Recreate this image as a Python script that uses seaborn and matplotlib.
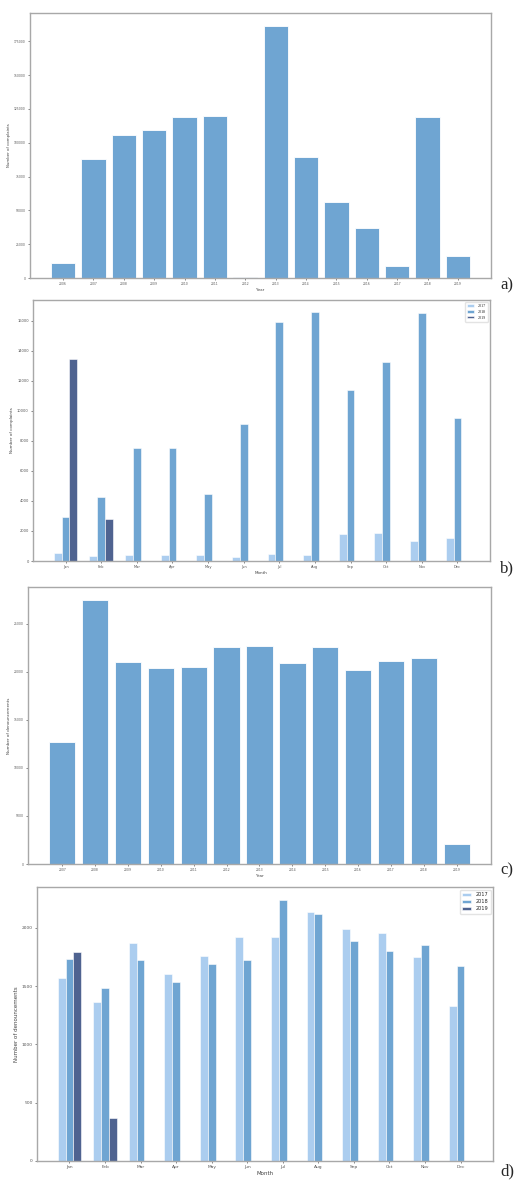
import pandas as pd
import matplotlib
matplotlib.use('Agg')
import matplotlib.pyplot as plt
import seaborn as sns

# a) complaints per year
years_a = ['2006', '2007', '2008', '2009', '2010', '2011', '2012',
           '2013', '2014', '2015', '2016', '2017', '2018', '2019']
complaints_year = [10800, 88300, 105600, 109000, 119300, 119800, 700,
                   186500, 89600, 55900, 36900, 9100, 119100, 16200]

# b) complaints per month
months = ['Jan', 'Feb', 'Mar', 'Apr', 'May', 'Jun',
          'Jul', 'Aug', 'Sep', 'Oct', 'Nov', 'Dec']
complaints_2017 = [510, 330, 380, 420, 380, 270, 440, 380, 1800, 1840, 1330, 1550]
complaints_2018 = [2910, 4260, 7500, 7500, 4480, 9100, 15890, 16560, 11390, 13250, 16540, 9520]
complaints_2019 = [13450, 2820]

# c) denouncements per year
years_c = ['2007', '2008', '2009', '2010', '2011', '2012', '2013',
           '2014', '2015', '2016', '2017', '2018', '2019']
denounce_year = [12740, 27470, 21080, 20450, 20520, 22600, 22670,
                 20900, 22600, 20170, 21150, 21420, 2120]

# d) denouncements per month
denounce_2017 = [1568, 1359, 1865, 1602, 1760, 1920, 1920, 2137, 1989, 1951, 1751, 1325]
denounce_2018 = [1731, 1482, 1722, 1531, 1688, 1720, 2237, 2120, 1888, 1800, 1851, 1668]
denounce_2019 = [1791, 366]

hue_years = ['2017', '2018', '2019']
palette = {'2017': '#abcdef', '2018': '#6fa5d2', '2019': '#4f6390'}
bar_blue = '#6fa5d2'
frame = '#a8a8a8'


def month_frame(v17, v18, v19):
    rows = []
    for vals, yr in [(v17, '2017'), (v18, '2018'), (v19, '2019')]:
        for m, v in zip(months, vals):
            rows.append({'month': m, 'year': yr, 'value': v})
    return pd.DataFrame(rows)


def style_axes(ax, tick_fs, label_fs, xlabel, ylabel):
    for s in ax.spines.values():
        s.set_color(frame)
        s.set_linewidth(1.0)
    ax.tick_params(labelsize=tick_fs, length=1.5, width=0.5, colors='#555555', pad=1.5)
    ax.set_xlabel(xlabel, fontsize=label_fs, labelpad=1, color='#444444')
    ax.set_ylabel(ylabel, fontsize=label_fs, labelpad=2, color='#444444')


def year_chart(ax, years, values, tick_fs, label_fs, ylabel, yticks):
    sns.barplot(x=years, y=values, color=bar_blue, saturation=1, width=0.8,
                edgecolor='white', linewidth=0.6, errorbar=None, ax=ax)
    n = len(years)
    m = 0.05 * (n - 1 + 0.8)
    ax.set_xlim(-0.4 - m, n - 0.6 + m)
    ax.set_ylim(0, max(values) * 1.05)
    ax.set_yticks(yticks)
    ax.set_yticklabels([str(t) for t in yticks])
    style_axes(ax, tick_fs, label_fs, 'Year', ylabel)


def month_chart(ax, df, tick_fs, label_fs, ylabel, yticks, legend_fs, legend_font):
    sns.barplot(data=df, x='month', y='value', hue='year', order=months,
                hue_order=hue_years, palette=palette, saturation=1, width=0.66,
                edgecolor='white', linewidth=0.4, errorbar=None, ax=ax)
    n = len(months)
    span = (n - 1) + 0.66
    m = 0.05 * span
    ax.set_xlim(-0.33 - m, n - 1 + 0.33 + m)
    ax.set_ylim(0, df['value'].max() * 1.05)
    ax.set_yticks(yticks)
    ax.set_yticklabels([str(t) for t in yticks])
    sns.move_legend(ax, 'upper right', title=None, fontsize=legend_fs,
                    frameon=True, handlelength=1.8, handleheight=0.6,
                    borderpad=0.5, labelspacing=0.4, edgecolor='#dddddd',
                    prop={'family': legend_font, 'size': legend_fs})
    style_axes(ax, tick_fs, label_fs, 'Month', ylabel)


sns.set_theme(style='ticks')
plt.rcParams['font.family'] = ['DejaVu Sans']

fig = plt.figure(figsize=(5.32, 11.83), dpi=100)
fig.patch.set_facecolor('white')

ax_a = fig.add_axes([30 / 532, 1 - 278 / 1183, 461 / 532, 265 / 1183])
ax_b = fig.add_axes([33 / 532, 1 - 561 / 1183, 457 / 532, 261 / 1183])
ax_c = fig.add_axes([28 / 532, 1 - 864 / 1183, 463 / 532, 277 / 1183])
ax_d = fig.add_axes([37 / 532, 1 - 1161 / 1183, 456 / 532, 274 / 1183])

year_chart(ax_a, years_a, complaints_year, 2.2, 2.8, 'Number of complaints',
           list(range(0, 175001, 25000)))

df_b = month_frame(complaints_2017, complaints_2018, complaints_2019)
month_chart(ax_b, df_b, 2.6, 3.0, 'Number of complaints',
            list(range(0, 16001, 2000)), 3.0, 'Liberation Serif')

year_chart(ax_c, years_c, denounce_year, 2.2, 3.0, 'Number of denouncements',
           list(range(0, 25001, 5000)))

df_d = month_frame(denounce_2017, denounce_2018, denounce_2019)
month_chart(ax_d, df_d, 3.2, 4.0, 'Number of denouncements',
            list(range(0, 2001, 500)), 3.6, 'DejaVu Sans')

for label, ypix in [('a)', 285), ('b)', 568), ('c)', 870), ('d)', 1171)]:
    fig.text(500 / 532, 1 - ypix / 1183, label, fontsize=12,
             family='Liberation Serif', va='center', ha='left')

fig.savefig('out.png', dpi=100, facecolor='white')
